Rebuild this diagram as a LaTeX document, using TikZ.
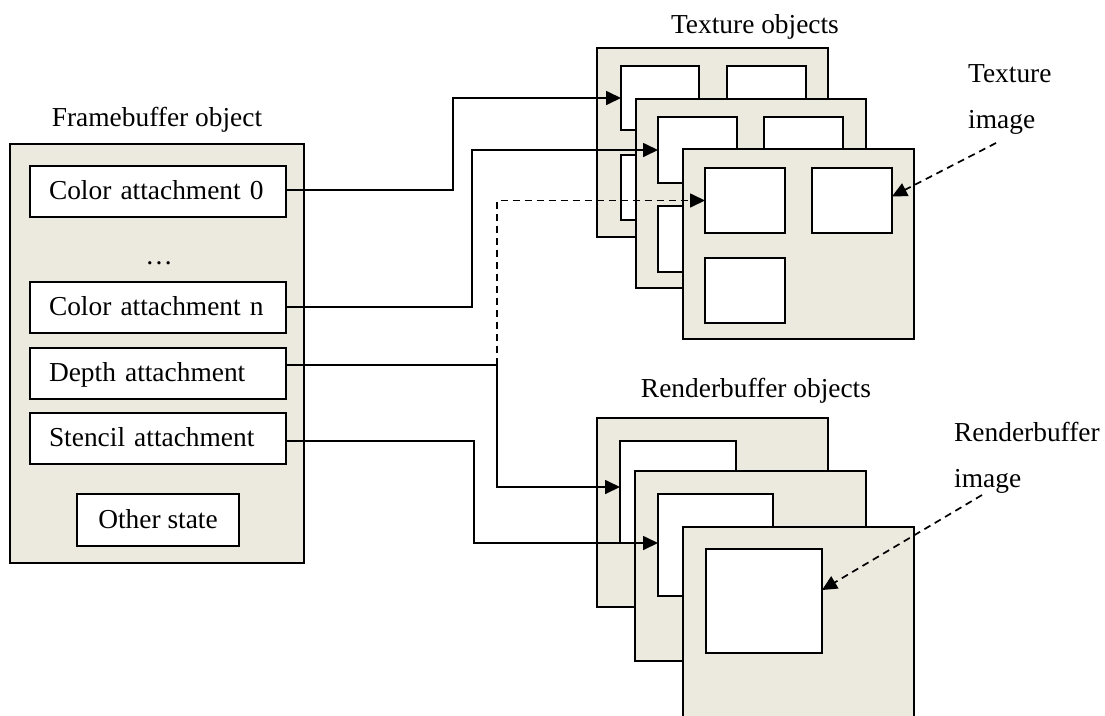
\documentclass[tikz,border=0pt]{standalone}
\usepackage{fontspec}
\setmainfont{Liberation Serif}
\usetikzlibrary{arrows.meta}
\definecolor{panelfill}{RGB}{236,233,223}
\tikzset{
  txt/.style={font=\fontsize{27.4}{32}\selectfont, inner sep=0pt},
  panel/.style={draw=black, fill=panelfill, line width=2pt, anchor=north west, inner sep=0pt, outer sep=0pt},
  slot/.style={draw=black, fill=white, line width=2pt, anchor=north west, inner sep=0pt, outer sep=0pt},
  attach/.style={draw=black, fill=white, line width=2pt, anchor=north west, outer sep=0pt,
    minimum width=256pt, minimum height=51pt, text width=218pt, inner xsep=19pt, inner ysep=0pt,
    align=left, text height=20pt, text depth=4pt, font=\fontsize{27.4}{32}\selectfont},
  conn/.style={line width=1.7pt, -{Triangle[length=15pt,width=14pt]}},
  optconn/.style={conn, dash pattern=on 7pt off 5pt},
}
\begin{document}
\begin{tikzpicture}[x=1pt,y=-1pt]
\useasboundingbox (0,0) rectangle (1105,715);
\clip (0,0) rectangle (1105,715);

% ---------- framebuffer object ----------
\node[txt, anchor=base] (fbtitle) at (157,126) {Framebuffer object};
\node[panel, minimum width=294pt, minimum height=419pt] (fb) at (10,144) {};
\node[attach] (ca0) at (30,166) {Color attachment 0};
\node[txt, anchor=base] (dots) at (159,264) {…};
\node[attach] (can) at (30,282) {Color attachment n};
\node[attach] (dep) at (30,348) {Depth attachment};
\node[attach] (sten) at (30,413) {Stencil attachment};
\node[draw=black, fill=white, line width=2pt, anchor=north west, outer sep=0pt,
      minimum width=162pt, minimum height=52pt, inner sep=0pt,
      text height=20pt, text depth=4pt, font=\fontsize{27.4}{32}\selectfont] (other) at (77,494) {Other state};

% ---------- texture objects ----------
\node[txt, anchor=base] (textitle) at (755,33) {Texture objects};
\node[panel, minimum width=231pt, minimum height=189pt] (t1) at (597,48) {};
\node[slot, minimum width=78pt, minimum height=64pt] (t1a) at (621,66) {};
\node[slot, minimum width=79pt, minimum height=64pt] (t1b) at (727,66) {};
\node[slot, minimum width=78pt, minimum height=65pt] (t1c) at (621,155) {};
\node[panel, minimum width=230pt, minimum height=189pt] (t2) at (636,99) {};
\node[slot, minimum width=79pt, minimum height=66pt] (t2a) at (658,117) {};
\node[slot, minimum width=79pt, minimum height=66pt] (t2b) at (764,117) {};
\node[slot, minimum width=79pt, minimum height=66pt] (t2c) at (658,206) {};
\node[panel, minimum width=231pt, minimum height=190pt] (t3) at (683,149) {};
\node[slot, minimum width=80pt, minimum height=65pt] (t3a) at (705,168) {};
\node[slot, minimum width=80pt, minimum height=65pt] (t3b) at (812,168) {};
\node[slot, minimum width=80pt, minimum height=65pt] (t3c) at (705,258) {};

\node[txt, anchor=base west] (timg1) at (968,82) {Texture};
\node[txt, anchor=base west] (timg2) at (968,128) {image};

% ---------- renderbuffer objects ----------
\node[txt, anchor=base] (rbtitle) at (756,397) {Renderbuffer objects};
\node[panel, minimum width=231pt, minimum height=189pt] (r1) at (597,418) {};
\node[slot, minimum width=116pt, minimum height=102pt] (r1a) at (620,441) {};
\node[panel, minimum width=231pt, minimum height=190pt] (r2) at (635,471) {};
\node[slot, minimum width=115pt, minimum height=102pt] (r2a) at (658,494) {};
\node[panel, minimum width=231pt, minimum height=200pt] (r3) at (683,527) {};
\node[slot, minimum width=116pt, minimum height=104pt] (r3a) at (706,549) {};

\node[txt, anchor=base west] (rimg1) at (954,441) {Renderbuffer};
\node[txt, anchor=base west] (rimg2) at (954,487) {image};

% ---------- connectors ----------
\coordinate (k0) at (453,190);
\coordinate (k1) at (472,307);
\coordinate (k2) at (497,365);
\coordinate (k3) at (474,441);
\coordinate (r1in) at ([yshift=5pt]r1a.west);
\coordinate (r2in) at ([yshift=2pt]r2a.west);

\draw[conn] (ca0.east |- k0) -- (k0) -- (k0 |- t1a.west) -- (t1a.west);
\draw[conn] (can.east |- k1) -- (k1) -- (k1 |- t2a.west) -- (t2a.west);
\draw[conn] (dep.east |- k2) -- (k2) -- (k2 |- r1in) -- (r1in);
\draw[conn] (sten.east |- k3) -- (k3) -- (k3 |- r2in) -- (r2in);
\draw[optconn] (k2) -- (k2 |- t3a.west) -- (t3a.west);

% image callouts
\coordinate (ttail) at (996,143);
\coordinate (rtail) at (982,495);
\draw[optconn] (ttail) -- ([yshift=4pt]t3b.east);
\draw[optconn] (rtail) -- ([yshift=11pt]r3a.east);
\end{tikzpicture}
\end{document}
